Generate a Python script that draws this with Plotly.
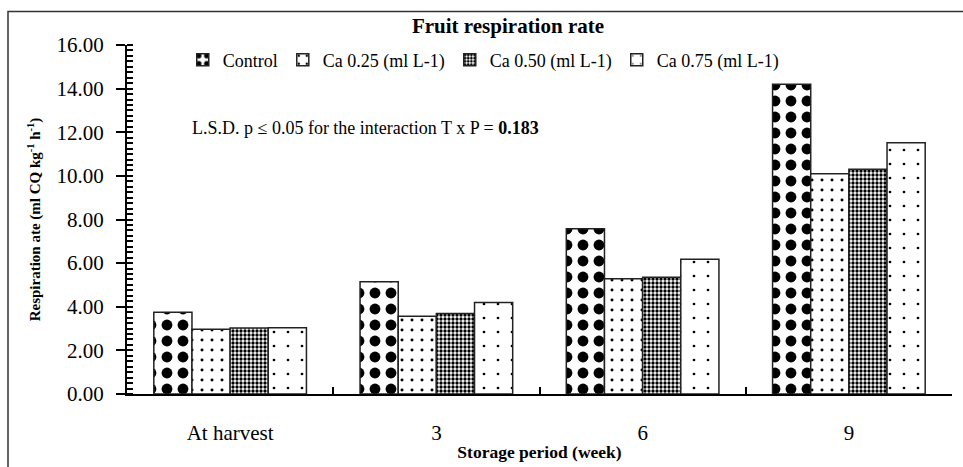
import plotly.graph_objects as go

categories = ["At harvest", "3", "6", "9"]
series_names = ["Control", "Ca 0.25 (ml L-1)", "Ca 0.50 (ml L-1)", "Ca 0.75 (ml L-1)"]
control = [3.75, 5.15, 7.58, 14.20]
ca_025 = [2.97, 3.57, 5.28, 10.10]
ca_050 = [3.03, 3.69, 5.35, 10.30]
ca_075 = [3.04, 4.20, 6.18, 11.52]
y_tick_values = [0, 2, 4, 6, 8, 10, 12, 14, 16]
y_tick_labels = ["0.00", "2.00", "4.00", "6.00", "8.00", "10.00", "12.00", "14.00", "16.00"]

FONT = "Liberation Serif"
series_values = [control, ca_025, ca_050, ca_075]
patterns = [
    dict(shape=".", size=16, solidity=0.36, fgcolor="black", bgcolor="white", fgopacity=1, fillmode="replace"),
    dict(shape=".", size=10, solidity=0.07, fgcolor="black", bgcolor="white", fgopacity=1, fillmode="replace"),
    dict(shape=".", size=4, solidity=0.55, fgcolor="black", bgcolor="white", fgopacity=1, fillmode="replace"),
    dict(shape=".", size=14, solidity=0.03, fgcolor="black", bgcolor="white", fgopacity=1, fillmode="replace"),
]

fig = go.Figure()
for name, vals, pat in zip(series_names, series_values, patterns):
    fig.add_trace(go.Bar(
        x=categories, y=vals, name=name,
        marker=dict(color="white", pattern=pat, line=dict(color="#222", width=1.5)),
    ))

# overlay axis to draw the inner half of the major y ticks
fig.add_trace(go.Scatter(x=categories, y=[None]*4, yaxis="y2", showlegend=False, hoverinfo="skip"))

fig.update_layout(
    width=963, height=467,
    margin=dict(l=127, r=11, t=45, b=73, autoexpand=False),
    paper_bgcolor="white", plot_bgcolor="white",
    font=dict(family=FONT, color="black", size=18),
    barmode="group", bargap=0.26, bargroupgap=0,
    title=dict(text="<b>Fruit respiration rate</b>", x=508/963, xanchor="center", xref="container",
               y=1-26/467, yanchor="middle", yref="container", font=dict(size=21, family=FONT),
               automargin=False),
    legend=dict(orientation="h", x=0.0676, xanchor="left", y=0.957, yanchor="middle",
                font=dict(size=18, family=FONT), bgcolor="rgba(0,0,0,0)",
                itemwidth=30, tracegroupgap=0, traceorder="normal"),
    showlegend=True,
    xaxis=dict(
        type="category", showline=True, linecolor="black", linewidth=2,
        ticks="inside", tickson="boundaries", ticklen=7, tickwidth=2, tickcolor="black",
        tickfont=dict(size=21, family=FONT), ticklabelstandoff=19, automargin=False,
        showgrid=False, zeroline=False,
        title=dict(text="<b>Storage period (week)</b>", font=dict(size=17.5, family=FONT), standoff=2),
    ),
    yaxis=dict(
        range=[0, 16], tickvals=y_tick_values, ticktext=y_tick_labels,
        showline=True, linecolor="black", linewidth=2,
        ticks="outside", ticklen=9, tickwidth=2, tickcolor="black",
        tickfont=dict(size=21, family=FONT), ticklabelstandoff=8, automargin=False,
        showgrid=False, zeroline=False,
        minor=dict(dtick=0.25, ticks="inside", ticklen=6, tickwidth=2, tickcolor="black", showgrid=False),
        title=dict(text="<b>Respiration ate (ml CQ kg<sup>-1</sup> h<sup>-1</sup>)</b>",
                   font=dict(size=15, family=FONT), standoff=12),
    ),
    yaxis2=dict(
        overlaying="y", matches="y", side="left", showline=False, automargin=False,
        tickvals=y_tick_values, ticks="inside", ticklen=6, tickwidth=2, tickcolor="black",
        showticklabels=False, showgrid=False, zeroline=False,
    ),
    shapes=[dict(type="rect", xref="paper", yref="paper",
                 x0=(8-127)/825, x1=1.2, y0=-0.5, y1=(394-11.5)/349,
                 line=dict(color="#333", width=1.5), fillcolor="rgba(0,0,0,0)", layer="above")],
    annotations=[dict(
        text="L.S.D. p \u2264 0.05 for the interaction T x P = <b>0.183</b>",
        xref="paper", yref="paper", x=(190-127)/825, y=(394-128)/349,
        xanchor="left", yanchor="middle", showarrow=False,
        font=dict(size=18, family=FONT),
    )],
)

fig.write_html(
    "out.html",
    config={"displayModeBar": False},
    post_script="document.body.style.margin='0';document.body.style.overflow='hidden';",
)
